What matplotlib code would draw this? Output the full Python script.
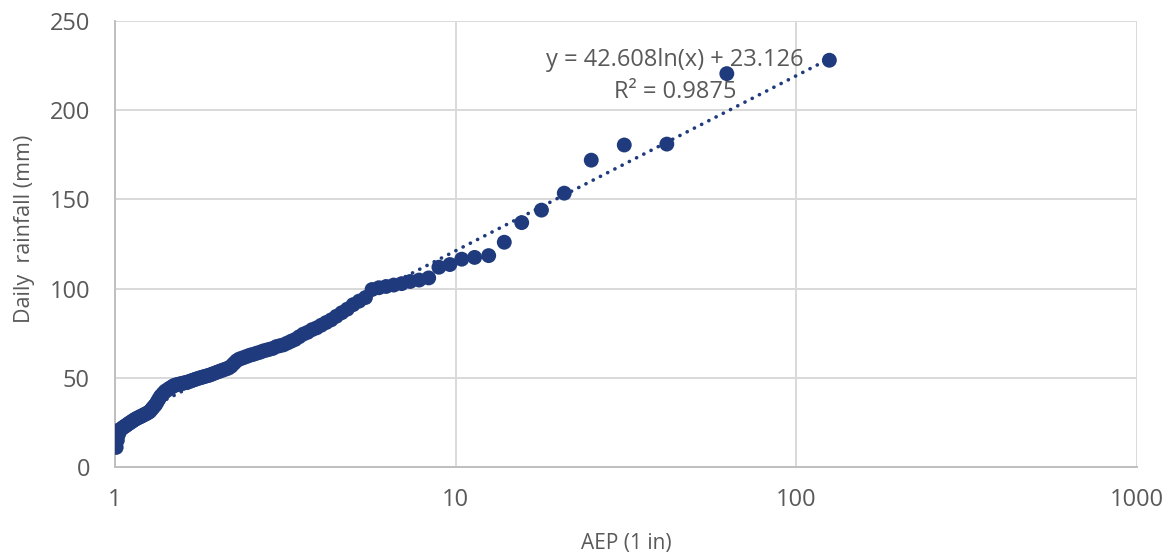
import numpy as np
import matplotlib
matplotlib.use("Agg")
import matplotlib.pyplot as plt
from matplotlib.ticker import FixedLocator, NullLocator

plt.rcParams['font.family'] = ['Open Sans', 'DejaVu Sans']

# AEP (1 in) plotting positions and ranked daily rainfall (mm)
aep = [125, 62.5, 41.667, 31.25, 25, 20.833, 17.857, 15.625, 13.889, 12.5,
       11.364, 10.417, 9.615, 8.929, 8.333, 7.813, 7.353, 6.944, 6.579, 6.25,
       5.952, 5.682, 5.435, 5.208, 5.0, 4.808, 4.630, 4.464, 4.310, 4.167,
       4.032, 3.906, 3.788, 3.676, 3.571, 3.472, 3.378, 3.289, 3.205, 3.125,
       3.049, 2.976, 2.907, 2.841, 2.778, 2.717, 2.660, 2.604, 2.551, 2.5,
       2.451, 2.404, 2.358, 2.315, 2.273, 2.232, 2.193, 2.155, 2.119, 2.083,
       2.049, 2.016, 1.984, 1.953, 1.923, 1.894, 1.866, 1.838, 1.812, 1.786,
       1.761, 1.736, 1.712, 1.689, 1.667, 1.645, 1.623, 1.603, 1.582, 1.563,
       1.543, 1.524, 1.506, 1.488, 1.471, 1.453, 1.437, 1.420, 1.404, 1.389,
       1.374, 1.359, 1.344, 1.330, 1.316, 1.302, 1.289, 1.276, 1.263, 1.25,
       1.238, 1.225, 1.214, 1.202, 1.190, 1.179, 1.168, 1.157, 1.147, 1.136,
       1.126, 1.116, 1.106, 1.096, 1.087, 1.078, 1.068, 1.059, 1.050, 1.042,
       1.033, 1.025, 1.016, 1.008]

rainfall = [228, 220.5, 181, 180.5, 172, 153.5, 144, 137, 126, 118.5,
            117.5, 116.5, 113.5, 112, 106, 104.8, 104, 102.8, 102, 101.2,
            100.5, 99.5, 95, 93, 91, 88.5, 86.5, 84.5, 82.5, 81,
            79.5, 78, 77, 75.5, 74.5, 73, 71.5, 70.5, 69.5, 68.5,
            68, 67.5, 66.5, 66, 65.5, 65, 64.3, 63.8, 63.2, 62.8,
            62.2, 61.6, 61, 60.5, 59.5, 58, 56.5, 55.5, 55, 54.5,
            54, 53.5, 53, 52.5, 52, 51.5, 51.2, 50.8, 50.5, 50.1,
            49.8, 49.4, 49, 48.6, 48.2, 47.8, 47.5, 47.2, 47, 46.7,
            46.5, 46.2, 46, 45.6, 45, 44.3, 43.8, 43, 42.5, 41.5,
            40.5, 39.5, 38, 36.5, 35, 34, 33, 32, 31, 30.5,
            30, 29.6, 29.2, 28.8, 28.3, 28, 27.6, 27.2, 26.8, 26.3,
            25.8, 25.3, 24.8, 24.3, 23.8, 23.3, 22.8, 22.3, 21.8, 21.3,
            20.5, 18.5, 15, 11]

# log trendline shown on chart
trend_a = 42.608
trend_b = 23.126
r2 = 0.9875

x_ticks = [1, 10, 100, 1000]
y_ticks = [0, 50, 100, 150, 200, 250]

blue = '#1f3b7d'
grey_txt = '#595959'
grid_col = '#d9d9d9'

fig = plt.figure(figsize=(11.71, 5.6), dpi=100)
ax = fig.add_axes([0.0982, 0.166, 0.8728, 0.7965])

ax.set_xscale('log')
ax.set_xlim(1, 1000)
ax.set_ylim(0, 250)

ax.scatter(aep, rainfall, s=115, color=blue, edgecolors='none', zorder=3)

xt = np.geomspace(min(aep), max(aep), 200)
ax.plot(xt, trend_a * np.log(xt) + trend_b, color=blue, lw=2.6,
        linestyle=(0, (0.05, 2.2)), dash_capstyle='round', zorder=4)

ax.text(44, 228, f'y = {trend_a}ln(x) + {trend_b}', ha='center', va='center',
        fontsize=17, color=grey_txt, zorder=5)
ax.text(44, 210, f'R² = {r2}', ha='center', va='center',
        fontsize=17, color=grey_txt, zorder=5)

ax.xaxis.set_major_locator(FixedLocator(x_ticks))
ax.xaxis.set_minor_locator(NullLocator())
ax.set_xticklabels([str(t) for t in x_ticks])
ax.set_yticks(y_ticks)

ax.grid(True, color=grid_col, lw=1.4)
ax.set_axisbelow(True)
for s in ['top', 'right']:
    ax.spines[s].set_visible(False)
for s in ['left', 'bottom']:
    ax.spines[s].set_color('#bfbfbf')
    ax.spines[s].set_linewidth(1.4)

ax.tick_params(axis='both', length=0, colors=grey_txt, labelsize=17)
ax.tick_params(axis='y', pad=18)
ax.tick_params(axis='x', pad=15)

ax.set_ylabel('Daily  rainfall (mm)', fontsize=15.5, color=grey_txt)
ax.yaxis.set_label_coords(-0.078, 0.534)
ax.set_xlabel('AEP (1 in)', fontsize=15, color=grey_txt)
ax.xaxis.set_label_coords(0.5, -0.148)

fig.savefig('out.png', dpi=100)
